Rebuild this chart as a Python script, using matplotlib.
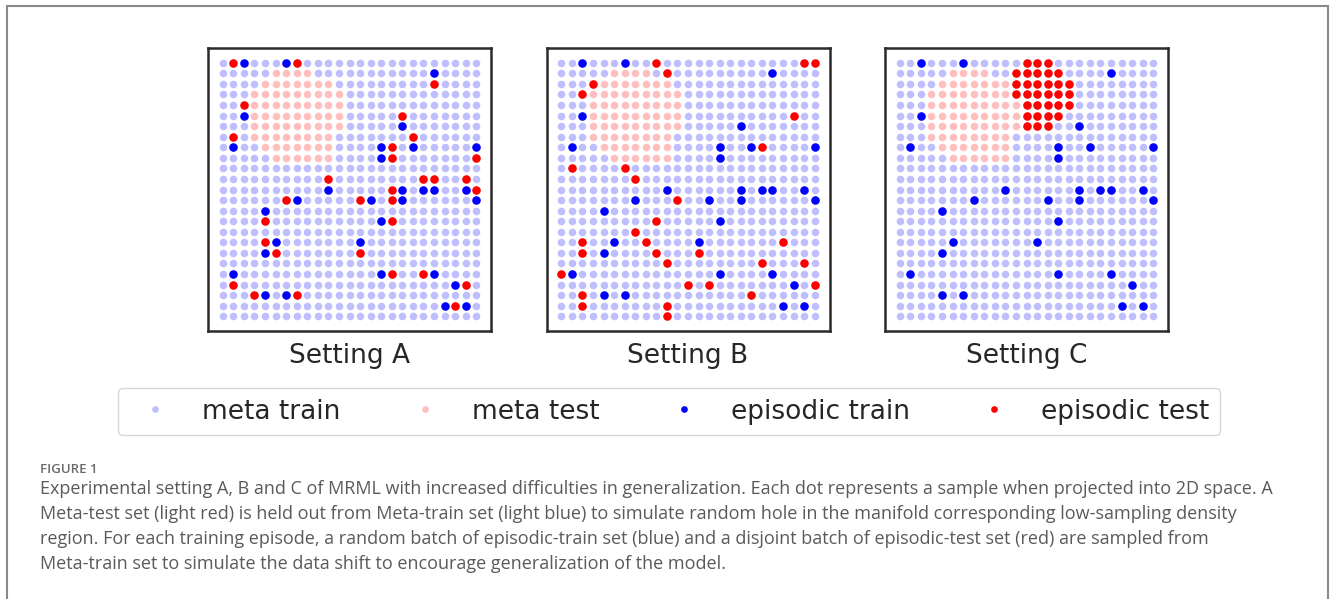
import matplotlib
matplotlib.use("Agg")
import matplotlib.pyplot as plt
from matplotlib.lines import Line2D
from matplotlib.patches import Rectangle

W, H, DPI = 1332, 599, 100

# ---------------- data ----------------
grid_n = 25
setting_titles = ["Setting A", "Setting B", "Setting C"]
legend_labels = ["meta train", "meta test", "episodic train", "episodic test"]

# held-out meta-test region (row -> first/last column)
meta_test_rows = [1, 2, 3, 4, 5, 6, 7, 8, 9]
meta_test_first_col = [5, 4, 3, 3, 3, 3, 3, 4, 5]
meta_test_last_col = [8, 10, 11, 11, 11, 11, 10, 10, 10]

# episodic-train samples (row, col) - identical in all settings
episodic_train = [(0, 2), (0, 6), (1, 20), (5, 2), (6, 17), (8, 1), (8, 15), (8, 18),
                  (8, 24), (9, 15), (12, 10), (12, 17), (12, 19), (12, 20), (12, 23),
                  (13, 7), (13, 14), (13, 17), (13, 24), (14, 4), (15, 15), (17, 5),
                  (17, 13), (18, 4), (20, 1), (20, 15), (20, 20), (21, 22), (22, 4),
                  (22, 6), (23, 21), (23, 23)]

# episodic-test samples (row, col)
episodic_test_A = [(0, 1), (0, 7), (2, 20), (4, 2), (5, 17), (7, 1), (7, 18), (8, 16),
                   (9, 16), (9, 24), (11, 10), (11, 19), (11, 20), (11, 23), (12, 16),
                   (12, 24), (13, 6), (13, 13), (13, 16), (15, 4), (15, 16), (17, 4),
                   (18, 5), (18, 13), (20, 16), (20, 19), (21, 1), (21, 23), (22, 3),
                   (22, 7), (23, 22)]
episodic_test_B = [(0, 9), (0, 23), (0, 24), (1, 10), (2, 3), (3, 2), (5, 22), (8, 19),
                   (10, 1), (10, 6), (11, 7), (13, 11), (15, 9), (16, 7), (17, 2), (17, 8),
                   (17, 21), (18, 2), (18, 9), (18, 13), (19, 10), (19, 19), (19, 23),
                   (20, 0), (21, 12), (21, 14), (21, 24), (22, 2), (22, 18), (23, 2),
                   (23, 10), (24, 10)]
# Setting C: a contiguous block of episodic-test samples (row -> first/last column)
cluster_C_rows = [0, 1, 2, 3, 4, 5, 6]
cluster_C_first_col = [12, 11, 11, 11, 12, 12, 12]
cluster_C_last_col = [14, 15, 16, 16, 16, 15, 14]

caption_head = "FIGURE 1"
caption_lines = [
    "Experimental setting A, B and C of MRML with increased difficulties in generalization. Each dot represents a sample when projected into 2D space. A",
    "Meta-test set (light red) is held out from Meta-train set (light blue) to simulate random hole in the manifold corresponding low-sampling density",
    "region. For each training episode, a random batch of episodic-train set (blue) and a disjoint batch of episodic-test set (red) are sampled from",
    "Meta-train set to simulate the data shift to encourage generalization of the model.",
]

# ---------------- derived point sets ----------------
meta_test = set()
for r, c0, c1 in zip(meta_test_rows, meta_test_first_col, meta_test_last_col):
    for c in range(c0, c1 + 1):
        meta_test.add((r, c))
meta_train = [(r, c) for r in range(grid_n) for c in range(grid_n) if (r, c) not in meta_test]
meta_test = sorted(meta_test)

episodic_test_C = []
for r, c0, c1 in zip(cluster_C_rows, cluster_C_first_col, cluster_C_last_col):
    for c in range(c0, c1 + 1):
        episodic_test_C.append((r, c))
episodic_tests = [episodic_test_A, episodic_test_B, episodic_test_C]

# ---------------- style ----------------
c_meta_train = "#bfbfff"
c_meta_test = "#ffbfbf"
c_ep_train = "#0000ff"
c_ep_test = "#ff0000"
s_meta = 30
s_ep = 38
text_dark = "#262626"

fig = plt.figure(figsize=(W / DPI, H / DPI), dpi=DPI)
fig.patch.set_facecolor("white")

# outer frame (left, top, right visible)
fig.add_artist(Rectangle((7 / W, -0.2), (1328 - 7) / W, 1.2 - 6 / H, transform=fig.transFigure,
                         fill=False, edgecolor="#8a8a8a", linewidth=1.5, clip_on=False))

ax_left_px = [208, 546.5, 885]
ax_top_px = 48
ax_size_px = 283

def xy(points):
    return [p[1] for p in points], [p[0] for p in points]

for i, title in enumerate(setting_titles):
    l = ax_left_px[i]
    ax = fig.add_axes([l / W, 1 - (ax_top_px + ax_size_px) / H, ax_size_px / W, ax_size_px / H])
    x, y = xy(meta_train)
    ax.scatter(x, y, s=s_meta, c=c_meta_train, linewidths=0, zorder=1)
    x, y = xy(meta_test)
    ax.scatter(x, y, s=s_meta, c=c_meta_test, linewidths=0, zorder=1)
    x, y = xy(episodic_train)
    ax.scatter(x, y, s=s_ep, c=c_ep_train, linewidths=0, zorder=2)
    x, y = xy(episodic_tests[i])
    ax.scatter(x, y, s=s_ep, c=c_ep_test, linewidths=0, zorder=2)
    ax.set_xlim(-1.4, grid_n - 1 + 1.4)
    ax.set_ylim(grid_n - 1 + 1.4, -1.4)
    ax.set_xticks([])
    ax.set_yticks([])
    for sp in ax.spines.values():
        sp.set_color("#2b2b2b")
        sp.set_linewidth(1.8)
    fig.text((l + ax_size_px / 2) / W, 1 - 363 / H, title, ha="center", va="baseline",
             fontsize=19, color=text_dark)

handles = [
    Line2D([], [], linestyle="", marker="o", markersize=4.8, markeredgewidth=0, color=c_meta_train),
    Line2D([], [], linestyle="", marker="o", markersize=4.8, markeredgewidth=0, color=c_meta_test),
    Line2D([], [], linestyle="", marker="o", markersize=4.8, markeredgewidth=0, color=c_ep_train),
    Line2D([], [], linestyle="", marker="o", markersize=4.8, markeredgewidth=0, color=c_ep_test),
]
leg = fig.legend(handles, legend_labels, loc="center", bbox_to_anchor=(669 / W, 1 - 411.5 / H),
                 ncol=4, fontsize=19, frameon=True, fancybox=True, edgecolor="#cccccc",
                 handlelength=2.0, handletextpad=0.78, columnspacing=2.2, borderpad=0.4)
for t in leg.get_texts():
    t.set_color(text_dark)

# caption
cap_family = ["Open Sans", "DejaVu Sans"]
fig.text(40 / W, 1 - 473 / H, caption_head, ha="left", va="baseline", fontsize=9.5,
         fontweight="semibold", color="#6a6a6a", family=cap_family)
cap_texts = []
for k, line in enumerate(caption_lines):
    cap_texts.append(fig.text(40 / W, 1 - (494 + 25 * k) / H, line, ha="left", va="baseline",
                              fontsize=13, color="#5a5a5a", family=cap_family))
# fit caption so that the first line spans the same width as in the reference
fig.canvas.draw()
renderer = fig.canvas.get_renderer()
w0 = cap_texts[0].get_window_extent(renderer).width
fs = 13 * (1228 / w0)
for t in cap_texts:
    t.set_fontsize(fs)

fig.savefig("out.png", dpi=DPI, facecolor="white")
